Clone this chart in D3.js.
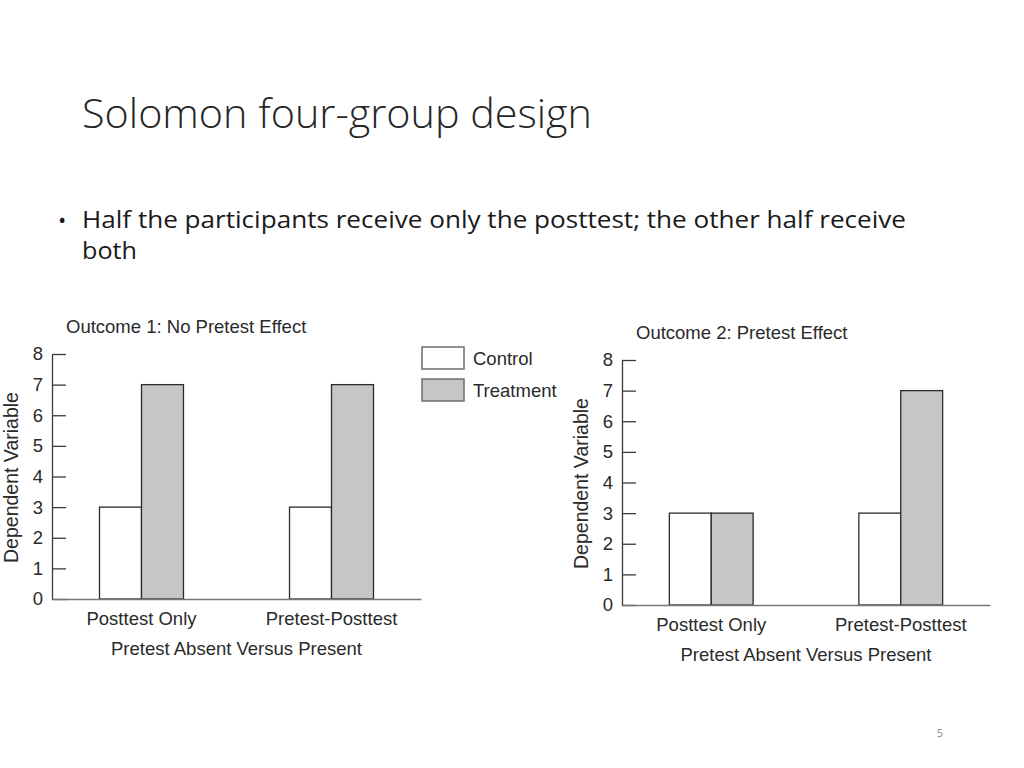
<!DOCTYPE html>
<html>
<head>
<meta charset="utf-8">
<script src="https://cdn.jsdelivr.net/npm/d3@7"></script>
<style>
  body { margin: 0; background: #fff; }
  svg { display: block; }
</style>
</head>
<body>
<svg id="canvas" width="1024" height="768"></svg>
<script>
// values
let groups = ['Posttest Only', 'Pretest-Posttest']
let series = ['Control', 'Treatment']
let outcome1Values = { Control: [3, 3], Treatment: [7, 7] }
let outcome2Values = { Control: [3, 3], Treatment: [3, 7] }
let yTicks = [0, 1, 2, 3, 4, 5, 6, 7, 8]
let chartTitles = ['Outcome 1: No Pretest Effect', 'Outcome 2: Pretest Effect']
let yLabel = 'Dependent Variable'
let xLabel = 'Pretest Absent Versus Present'

let colors = { Control: '#ffffff', Treatment: '#c6c6c6' }
let chartFont = "'Liberation Sans', Arial, sans-serif"
let slideFont = "'Open Sans', 'Noto Sans', sans-serif"

let canvas = d3.select('#canvas')

// slide text
canvas.append('text')
  .attr('x', 82).attr('y', 128)
  .attr('font-family', slideFont).attr('font-weight', 300)
  .attr('font-size', 40).attr('fill', '#262626')
  .attr('textLength', 510).attr('lengthAdjust', 'spacingAndGlyphs')
  .text('Solomon four-group design')

canvas.append('text')
  .attr('x', 58).attr('y', 228)
  .attr('font-family', slideFont).attr('font-size', 22).attr('fill', '#1a1a1a')
  .text('•')

canvas.append('text')
  .attr('x', 82).attr('y', 228)
  .attr('font-family', slideFont).attr('font-size', 23).attr('fill', '#1a1a1a')
  .attr('textLength', 824).attr('lengthAdjust', 'spacingAndGlyphs')
  .text('Half the participants receive only the posttest; the other half receive')

canvas.append('text')
  .attr('x', 82).attr('y', 259)
  .attr('font-family', slideFont).attr('font-size', 23).attr('fill', '#1a1a1a')
  .attr('textLength', 55).attr('lengthAdjust', 'spacingAndGlyphs')
  .text('both')

canvas.append('text')
  .attr('x', 940).attr('y', 737)
  .attr('text-anchor', 'middle')
  .attr('font-family', slideFont).attr('font-size', 11).attr('fill', '#8a8a8a')
  .text('5')

let drawChart = (opts, values, title) => {
  let y = d3.scaleLinear().domain([0, 8]).range([opts.y0, opts.y8])
  let x = d3.scaleBand().domain(groups)
    .range([opts.left, opts.right])
    .paddingInner(0.558).paddingOuter(0.25)
  let xInner = d3.scaleBand().domain(series).range([0, x.bandwidth()])

  let g = canvas.append('g').attr('font-family', chartFont)

  // bars
  groups.forEach((grp, i) => {
    series.forEach((s) => {
      g.append('rect')
        .attr('x', x(grp) + xInner(s))
        .attr('y', y(values[s][i]))
        .attr('width', xInner.bandwidth())
        .attr('height', y(0) - y(values[s][i]))
        .attr('fill', colors[s])
        .attr('stroke', '#2b2b2b')
        .attr('stroke-width', 1.3)
    })
  })

  // y axis, ticks pointing inward
  let yAxis = g.append('g')
    .attr('transform', 'translate(' + opts.left + ',0)')
    .call(d3.axisLeft(y).tickValues(yTicks).tickFormat(d3.format('d'))
      .tickSize(-14).tickSizeOuter(0).tickPadding(9))
  yAxis.selectAll('path, line').attr('stroke', '#3a3a3a').attr('stroke-width', 1.3)
  yAxis.selectAll('text').attr('font-size', 18.5).attr('fill', '#2a2a2a')
    .attr('font-family', chartFont)

  // x axis (baseline)
  let xAxis = g.append('g')
    .attr('transform', 'translate(0,' + opts.y0 + ')')
    .call(d3.axisBottom(x).tickSize(0).tickPadding(13))
  xAxis.select('path').attr('stroke', '#777').attr('stroke-width', 1.5)
  xAxis.selectAll('text').attr('font-size', 18.5).attr('fill', '#2a2a2a')
    .attr('font-family', chartFont)

  g.append('text')
    .attr('x', opts.left + 14).attr('y', opts.y8 - 21)
    .attr('font-size', 18.5).attr('fill', '#2a2a2a')
    .text(title)

  g.append('text')
    .attr('transform', 'translate(' + (opts.left - 34) + ',' + ((opts.y0 + opts.y8) / 2 + 1) + ') rotate(-90)')
    .attr('text-anchor', 'middle')
    .attr('font-size', 19.5).attr('fill', '#2a2a2a')
    .text(yLabel)

  g.append('text')
    .attr('x', (opts.left + opts.right) / 2 + 0).attr('y', opts.y0 + 56)
    .attr('text-anchor', 'middle')
    .attr('font-size', 18.5).attr('fill', '#2a2a2a')
    .text(xLabel)
}

drawChart({ left: 52, right: 421, y0: 599, y8: 354 }, outcome1Values, chartTitles[0])
drawChart({ left: 622, right: 990, y0: 605, y8: 360 }, outcome2Values, chartTitles[1])

// legend
let legend = canvas.append('g').attr('font-family', chartFont)
series.forEach((s, i) => {
  legend.append('rect')
    .attr('x', 422).attr('y', 347 + i * 32)
    .attr('width', 42).attr('height', 22)
    .attr('fill', colors[s]).attr('stroke', '#6e6e6e').attr('stroke-width', 1.5)
  legend.append('text')
    .attr('x', 473).attr('y', 365 + i * 32)
    .attr('font-size', 18.5).attr('fill', '#2a2a2a')
    .text(s)
})
</script>
</body>
</html>
